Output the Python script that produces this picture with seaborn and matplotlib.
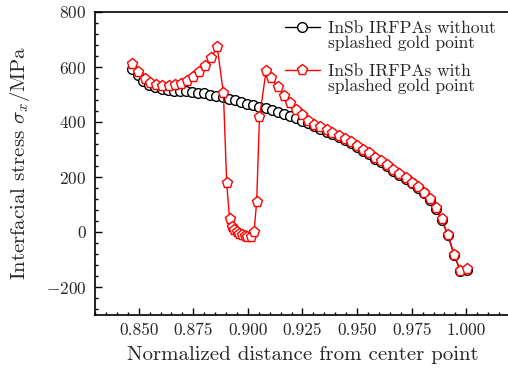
import matplotlib
matplotlib.use("Agg")
import matplotlib.pyplot as plt
import seaborn as sns
from matplotlib.lines import Line2D
from matplotlib.ticker import MultipleLocator

# distance (normalized) and interfacial stress (MPa)
x_without = [0.8468, 0.8495, 0.8521, 0.8549, 0.8576, 0.8605, 0.8633, 0.8660,
             0.8689, 0.8717, 0.8744, 0.8773, 0.8800, 0.8828, 0.8855, 0.8884,
             0.8912, 0.8939, 0.8968, 0.8996, 0.9025, 0.9052, 0.9081, 0.9110,
             0.9137, 0.9165, 0.9192, 0.9220, 0.9249, 0.9276, 0.9303, 0.9331,
             0.9360, 0.9387, 0.9415, 0.9444, 0.9471, 0.9499, 0.9526, 0.9554,
             0.9582, 0.9610, 0.9637, 0.9666, 0.9694, 0.9723, 0.9750, 0.9778,
             0.9805, 0.9834, 0.9860, 0.9887, 0.9916, 0.9944, 0.9973, 1.0002]
y_without = [592, 571, 550, 535, 526, 521, 516, 514,
             513, 511, 509, 507, 504, 499, 496, 491,
             485, 479, 473, 467, 461, 456, 450, 444,
             436, 429, 421, 413, 405, 395, 386, 376,
             365, 355, 345, 333, 322, 310, 296, 282,
             267, 254, 239, 223, 208, 192, 177, 160,
             141, 117, 85, 45, -12, -83, -142, -137]

x_with = [0.8468, 0.8499, 0.8527, 0.8554, 0.8580, 0.8608, 0.8637, 0.8665,
          0.8692, 0.8720, 0.8747, 0.8774, 0.8802, 0.8829, 0.8860, 0.8888,
          0.8903, 0.8916, 0.8927, 0.8938, 0.8948, 0.8960, 0.8973, 0.8985,
          0.8998, 0.9012, 0.9028, 0.9040, 0.9053, 0.9083, 0.9108, 0.9137,
          0.9165, 0.9191, 0.9220, 0.9247, 0.9276, 0.9303, 0.9331, 0.9360,
          0.9387, 0.9415, 0.9444, 0.9471, 0.9499, 0.9526, 0.9554, 0.9582,
          0.9610, 0.9637, 0.9666, 0.9694, 0.9723, 0.9750, 0.9778, 0.9805,
          0.9834, 0.9860, 0.9887, 0.9916, 0.9944, 0.9973, 1.0002]
y_with = [610, 581, 555, 541, 533, 530, 531, 533,
          538, 550, 563, 581, 605, 633, 671, 504,
          177, 48, 19, 7, -1, -8, -12, -16,
          -17, -17, -1, 108, 417, 584, 559, 526,
          495, 468, 444, 424, 404, 390, 381, 370,
          359, 349, 337, 326, 314, 299, 286, 270,
          257, 242, 226, 211, 195, 180, 162, 143,
          119, 86, 46, -11, -82, -141, -136]

label_without = ["InSb IRFPAs without", "splashed gold point"]
label_with = ["InSb IRFPAs with", "splashed gold point"]

sns.set_style("white")
plt.rcParams["font.family"] = ["cmr10", "DejaVu Serif"]
plt.rcParams["mathtext.fontset"] = "cm"
plt.rcParams["axes.formatter.use_mathtext"] = True

fig = plt.figure(figsize=(5.08, 3.69), dpi=100)
ax = fig.add_axes([95 / 508, 1 - 314.5 / 369, 415 / 508, 302.5 / 369])

sns.lineplot(x=x_without, y=y_without, ax=ax, color="black", lw=1.0,
             marker="o", markersize=7, markerfacecolor="white",
             markeredgecolor="black", markeredgewidth=1.0,
             estimator=None, sort=False, legend=False)
sns.lineplot(x=x_with, y=y_with, ax=ax, color="red", lw=1.0,
             marker="p", markersize=8, markerfacecolor="white",
             markeredgecolor="red", markeredgewidth=1.0,
             estimator=None, sort=False, legend=False)

ax.set_xlim(0.83, 1.02)
ax.set_ylim(-300, 800)
ax.xaxis.set_minor_locator(MultipleLocator(0.005))
ax.yaxis.set_major_locator(MultipleLocator(200))
ax.yaxis.set_minor_locator(MultipleLocator(40))
ax.set_xticks([0.85, 0.875, 0.9, 0.925, 0.95, 0.975, 1.0])
ax.set_xticklabels(["0.850", "0.875", "0.900", "0.925", "0.950", "0.975", "1.000"])

ax.tick_params(which="both", direction="in", top=False, right=False,
               bottom=True, left=True, width=1.0, color="black")
ax.tick_params(which="major", length=5, labelsize=12.5, pad=6)
ax.tick_params(which="minor", length=2.5)
for s in ax.spines.values():
    s.set_color("black")
    s.set_linewidth(1.2)

ax.set_xlabel("Normalized distance from center point", fontsize=15, labelpad=6)
ax.set_ylabel(r"Interfacial stress $\sigma_x$/MPa", fontsize=15, labelpad=10)

# handle sits on the first line of each two-line label, as in the original
blank = Line2D([], [], linestyle="none")
handles = [ax.lines[0], blank, blank, ax.lines[1], blank]
labels = [label_without[0], label_without[1], " ", label_with[0], label_with[1]]
leg = ax.legend(handles, labels, loc="upper left", bbox_to_anchor=(0.437, 1.0),
                frameon=False, fontsize=12.5, handlelength=2.0, labelspacing=-0.05,
                handletextpad=0.5, borderaxespad=0.1)
leg.get_texts()[2].set_fontsize(6)

fig.savefig("out.png", dpi=100)
